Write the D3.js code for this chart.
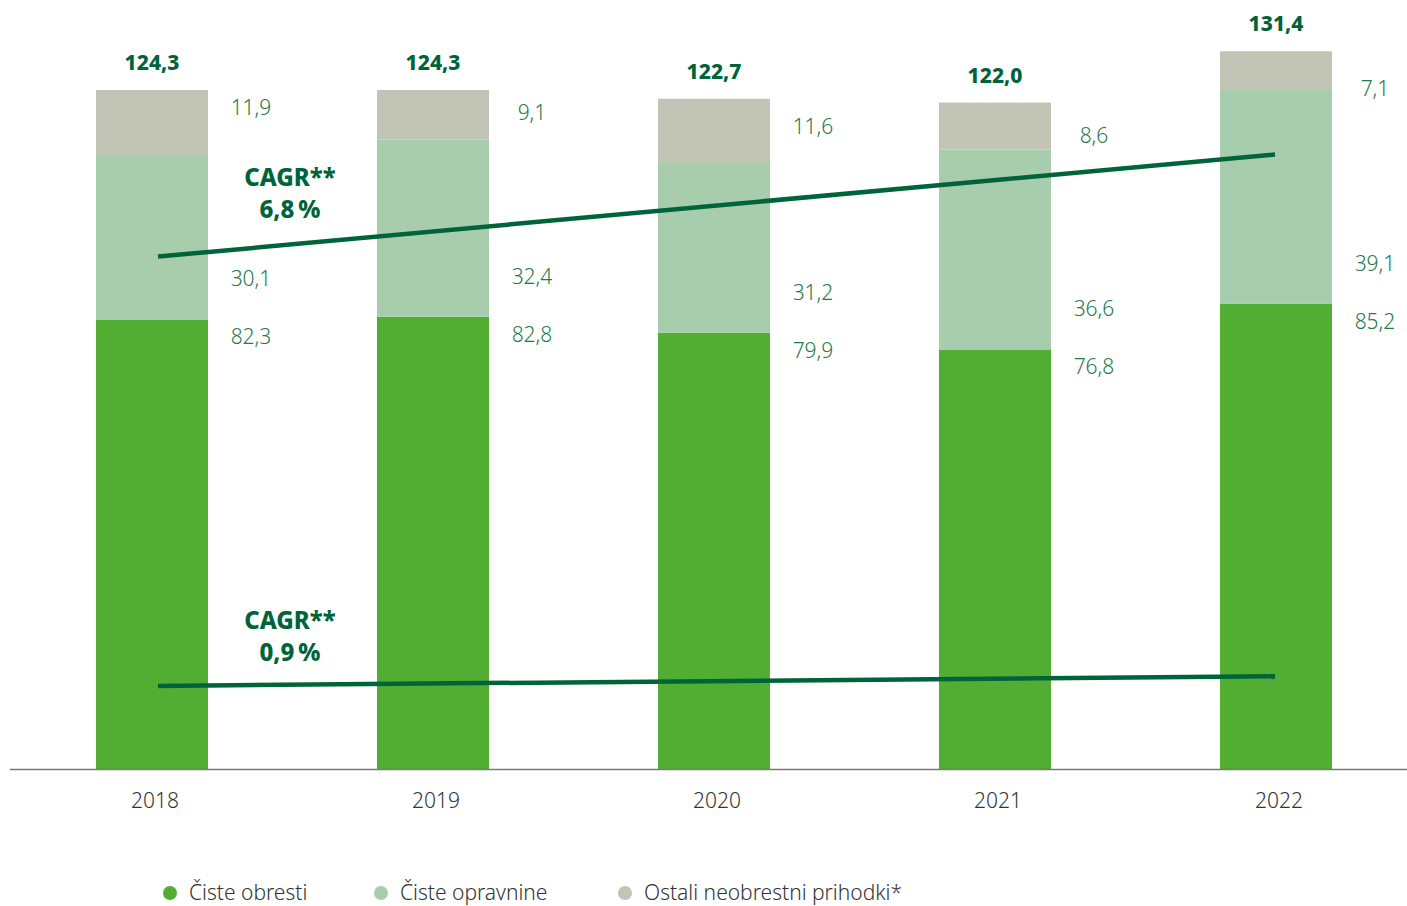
<!DOCTYPE html>
<html>
<head>
<meta charset="utf-8">
<script src="https://cdn.jsdelivr.net/npm/d3@7"></script>
<style>
  body { margin: 0; background: #fff; }
  svg { display: block; font-family: "Noto Sans", sans-serif; }
  .val { fill: #1f7a4c; font-size: 21px; font-weight: 300; }
  .tot { fill: #00643a; font-size: 21px; font-weight: 800; }
  .cagr { fill: #00643a; font-size: 24px; font-weight: 800; }
  .year { fill: #333; font-size: 21px; font-weight: 300; }
  .leg { fill: #333; font-size: 21px; font-weight: 300; }
</style>
</head>
<body>
<svg width="1407" height="906"></svg>
<script>
// data
const years = ["2018", "2019", "2020", "2021", "2022"];
const obresti = [82.3, 82.8, 79.9, 76.8, 85.2];
const opravnine = [30.1, 32.4, 31.2, 36.6, 39.1];
const ostali = [11.9, 9.1, 11.6, 8.6, 7.1];
const totals = ["124,3", "124,3", "122,7", "122,0", "131,4"];
const seriesNames = ["Čiste obresti", "Čiste opravnine", "Ostali neobrestni prihodki*"];
const colors = ["#52ae32", "#a8cdad", "#c2c5b5"];
// trend lines (start/end value on the chart scale) and labels
const cagrLines = [
  { label: "6,8\u2009%", from: 93.8, to: 112.5 },
  { label: "0,9\u2009%", from: 15.2, to: 17.0 }
];

let svg = d3.select("svg");
const baseY = 769;

var x = d3.scalePoint().domain(years).range([152, 1276]);
var y = d3.scaleLinear().domain([0, 124.3]).range([baseY, 90]);
const bw = 112;

var rows = years.map((yr, i) => ({ year: yr, vals: [obresti[i], opravnine[i], ostali[i]], total: totals[i] }));
var stack = d3.stack().keys([0, 1, 2]).value((d, k) => d.vals[k]);
var layers = stack(rows);

svg.append("g").selectAll("g")
  .data(layers)
  .enter().append("g")
  .attr("fill", (d, i) => colors[i])
  .selectAll("rect")
  .data(d => d)
  .enter().append("rect")
  .attr("x", d => x(d.data.year) - bw / 2)
  .attr("width", bw)
  .attr("y", d => y(d[1]))
  .attr("height", d => y(d[0]) - y(d[1]));

// baseline
svg.append("line")
  .attr("x1", 10).attr("x2", 1407)
  .attr("y1", baseY + 0.5).attr("y2", baseY + 0.5)
  .attr("stroke", "#777").attr("stroke-width", 1.5);

var fmt = v => String(v.toFixed(1)).replace(".", ",");

// value labels to the right of bars
rows.forEach((d, i) => {
  const lx = x(d.year) + bw / 2 + 43;
  const gTop = y(obresti[i]);
  const tTop = y(obresti[i] + opravnine[i] + ostali[i]);
  const labels = [
    { v: obresti[i], yy: gTop + 25 },
    { v: opravnine[i], yy: gTop - 33 },
    { v: ostali[i], yy: tTop + 25 + i * 5 }
  ];
  labels.forEach(l => {
    svg.append("text").attr("class", "val")
      .attr("x", lx).attr("y", l.yy)
      .attr("text-anchor", "middle")
      .text(fmt(l.v));
  });
  svg.append("text").attr("class", "tot")
    .attr("x", x(d.year)).attr("y", tTop - 20)
    .attr("text-anchor", "middle")
    .text(d.total);
  svg.append("text").attr("class", "year")
    .attr("x", x(d.year) + 3).attr("y", 808)
    .attr("text-anchor", "middle")
    .text(d.year);
});

// CAGR lines
cagrLines.forEach((c, i) => {
  svg.append("line")
    .attr("x1", 158).attr("x2", 1275)
    .attr("y1", y(c.from)).attr("y2", y(c.to))
    .attr("stroke", "#00643a").attr("stroke-width", 4.5);
  const ty = y(c.from) - (i === 0 ? 71 : 57);
  svg.append("text").attr("class", "cagr")
    .attr("x", 290).attr("y", ty)
    .attr("text-anchor", "middle").text("CAGR**");
  svg.append("text").attr("class", "cagr")
    .attr("x", 290).attr("y", ty + 32)
    .attr("text-anchor", "middle").text(c.label);
});

// legend
const legX = [170, 381, 625];
seriesNames.forEach((n, i) => {
  svg.append("circle").attr("cx", legX[i]).attr("cy", 893).attr("r", 7).attr("fill", colors[i]);
  svg.append("text").attr("class", "leg")
    .attr("x", legX[i] + 19).attr("y", 900).text(n);
});
</script>
</body>
</html>
